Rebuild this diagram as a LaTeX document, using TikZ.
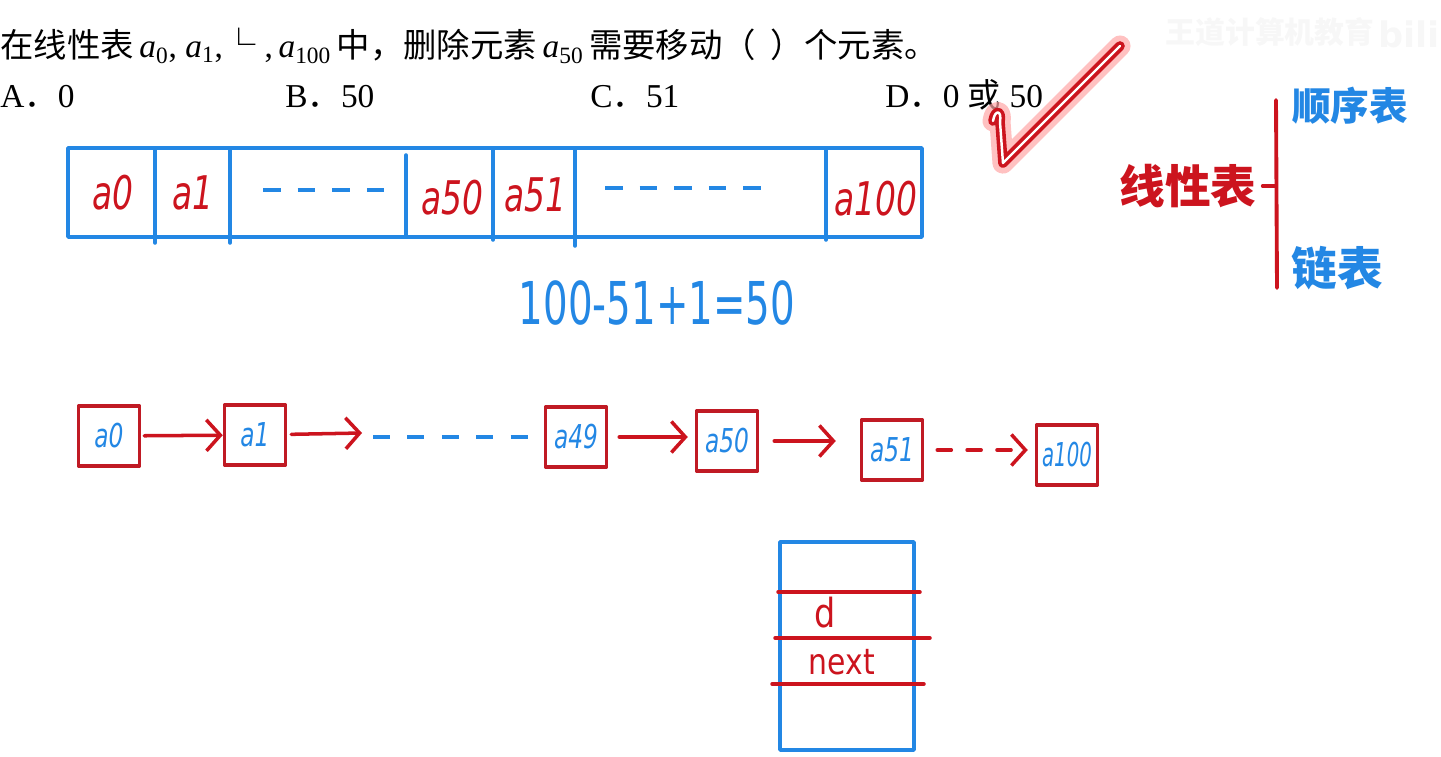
\documentclass[tikz,border=0pt]{standalone}
\usepackage{fontspec}
\setmainfont{Liberation Serif}
\newfontfamily\hanzi{Noto Sans CJK SC}
\newfontfamily\hand{DejaVu Sans}
\usepackage{tikz}
\usetikzlibrary{arrows.meta}
\definecolor{handred}{RGB}{204,20,30}
\definecolor{handblue}{RGB}{35,135,228}
\definecolor{boxred}{RGB}{192,26,36}
\newcommand\narrow[1]{\scalebox{0.78}[1.1]{#1}}

\begin{document}
\begin{tikzpicture}[x=0.02cm,y=-0.02cm,line cap=round,line join=round,
    redlbl/.style={text=handred,inner sep=0pt,font=\hand\itshape\fontsize{24}{24}\selectfont},
    bluelbl/.style={text=handblue,inner sep=0pt,font=\hand\itshape\fontsize{17}{17}\selectfont},
    lnode/.style={draw=boxred,line width=2pt,minimum width=1.22cm,minimum height=1.2cm,inner sep=0pt,bluelbl},
    link/.style={draw=handred,line width=2pt,-{Straight Barb[length=0.28cm,width=0.62cm]}}]
    \useasboundingbox (0,0) rectangle (1441,757);
    \node[text=black!3,font=\hanzi\bfseries\fontsize{17}{17}\selectfont] (wm) at (1270,32) {王道计算机教育};
    \node[text=black!3,font=\hand\bfseries\fontsize{20}{20}\selectfont,anchor=east,inner sep=0pt] (bili) at (1440,34) {bili};
    \node[anchor=base west,inner sep=0pt,font=\fontsize{19}{19}\selectfont] (q) at (0,58)
        {{\hanzi 在线性表}\,\textit{a}\textsubscript{0}, \textit{a}\textsubscript{1},{\hanzi └}~,\,\textit{a}\textsubscript{100}\,{\hanzi 中，删除元素}\,\textit{a}\textsubscript{50}\,{\hanzi 需要移动（~~）个元素。}};
    \node[anchor=base west,inner sep=0pt,font=\fontsize{19}{19}\selectfont] (optA) at (0,108) {A{\hanzi ．}0};
    \node[anchor=base west,inner sep=0pt,font=\fontsize{19}{19}\selectfont] (optB) at (285,108) {B{\hanzi ．}50};
    \node[anchor=base west,inner sep=0pt,font=\fontsize{19}{19}\selectfont] (optC) at (590,108) {C{\hanzi ．}51};
    \node[anchor=base west,inner sep=0pt,font=\fontsize{19}{19}\selectfont] (optD) at (885,108) {D{\hanzi ．}0 {\hanzi 或} 50};
    \coordinate (ckA) at (993,121); \coordinate (ckB) at (1003,163); \coordinate (ckC) at (1120,46);
    \draw[red!35,line width=12pt,opacity=0.7] (ckA) .. controls (995,109) and (1002,110) .. (1000,122) -- (ckB) -- (ckC);
    \draw[handred,line width=5.5pt] (ckA) .. controls (995,109) and (1002,110) .. (1000,122) -- (ckB) -- (ckC);
    \draw[white,line width=1.4pt] (ckA) .. controls (995,109) and (1002,110) .. (1000,122) -- (ckB) -- (ckC);
    \node[text=handred,font=\hanzi\bfseries\fontsize{26}{26}\selectfont] (lin) at (1188,186) {线性表};
    \node[text=handblue,font=\hanzi\bfseries\fontsize{22}{22}\selectfont] (seq) at (1350,106) {顺序表};
    \node[text=handblue,font=\hanzi\bfseries\fontsize{26}{26}\selectfont] (lnk) at (1337,268) {链表};
    \coordinate (brT) at (1276,100); \coordinate (brB) at (1277,288);
    \draw[handred,line width=2.2pt] (brT) -- (brB);
    \draw[handred,line width=2.2pt] (lin.east) -- (lin.east -| brT);
    \coordinate (arrNW) at (68,148); \coordinate (arrSE) at (922,237);
    \draw[handblue,line width=2pt] (arrNW) rectangle (arrSE);
    \foreach \x/\t/\b in {155/148/243,230/148/243,406/155/237,493/148/240,575/148/246,826/148/240}
        \draw[handblue,line width=2pt] (\x,\t) -- (\x,\b);
    \node[redlbl] (s0) at (113,193) {\narrow{a0}};
    \node[redlbl] (s1) at (193,193) {\narrow{a1}};
    \node[redlbl] (s50) at (452,198) {\narrow{a50}};
    \node[redlbl] (s51) at (535,195) {\narrow{a51}};
    \node[redlbl] (s100) at (876,199) {\narrow{a100}};
    \draw[handblue,line width=2.8pt,line cap=butt,dash pattern=on 10pt off 9.7pt] (263,190) -- (385,190);
    \draw[handblue,line width=2.8pt,line cap=butt,dash pattern=on 10pt off 9.7pt] (605,188) -- (762,188);
    \node[text=handblue,font=\hand\fontsize{21}{21}\selectfont] (eq) at (657,303) {\scalebox{1.05}[1.6]{100-51+1=50}};
    \node[lnode] (n0) at (109,436) {\narrow{a0}};
    \node[lnode] (n1) at (255,435) {\narrow{a1}};
    \node[lnode] (n49) at (576,437) {\narrow{a49}};
    \node[lnode] (n50) at (727,441) {\narrow{a50}};
    \node[lnode] (n51) at (892,450) {\narrow{a51}};
    \node[lnode] (n100) at (1067,455) {\scalebox{0.66}[1.1]{a100}};
    \coordinate (gapA) at (362,433); \coordinate (gapB) at (373,437);
    \draw[link,shorten <=0.06cm] (n0) -- (n1);
    \draw[link,shorten <=0.08cm] (n1) -- (gapA);
    \draw[handblue,line width=2.8pt,line cap=butt,dash pattern=on 9.6pt off 10pt,shorten >=0.32cm] (gapB) -- (n49);
    \draw[link,shorten <=0.22cm,shorten >=0.14cm] (n49) -- (n49 -| n50.west);
    \draw[link,shorten <=0.3cm,shorten >=0.48cm] (n50) -- (n50 -| n51.west);
    \draw[link,dash pattern=on 8pt off 9pt,shorten <=0.26cm,shorten >=0.14cm] (n51) -- (n51 -| n100.west);
    \coordinate (ndNW) at (780,542); \coordinate (ndSE) at (914,750);
    \draw[handblue,line width=2pt] (ndNW) rectangle (ndSE);
    \draw[handred,line width=2pt] (778,592) -- (920,592);
    \draw[handred,line width=2pt] (775,638) -- (930,638);
    \draw[handred,line width=2pt] (772,684) -- (924,684);
    \node[text=handred,font=\hand\fontsize{19}{19}\selectfont] (fd) at (825,613) {\scalebox{1}[1.2]{d}};
    \node[text=handred,font=\hand\fontsize{17}{17}\selectfont] (fn) at (842,662) {\scalebox{1}[1.2]{next}};
\end{tikzpicture}
\end{document}
